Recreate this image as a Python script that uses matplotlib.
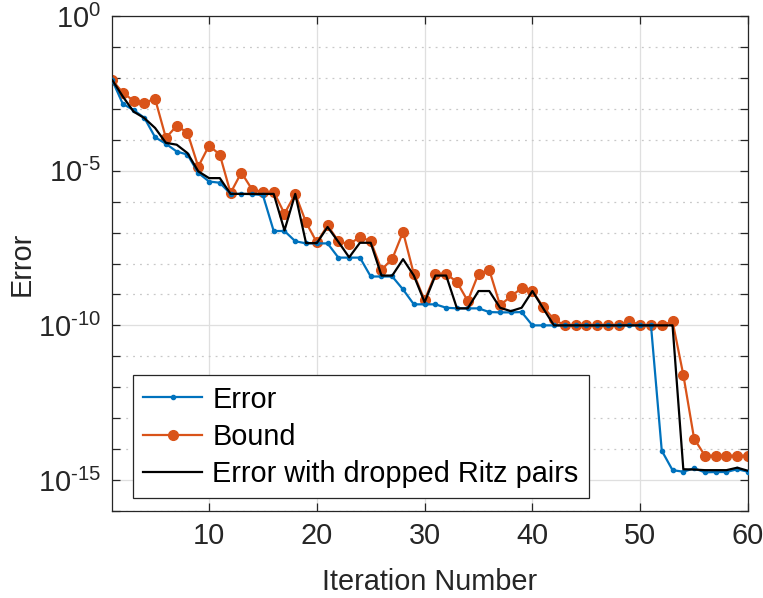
import numpy as np
import matplotlib
matplotlib.use("Agg")
import matplotlib.pyplot as plt
from matplotlib.ticker import FixedLocator, NullFormatter, FuncFormatter

plt.rcParams['font.family'] = ['Liberation Sans', 'DejaVu Sans']
plt.rcParams['mathtext.fontset'] = 'custom'
plt.rcParams['mathtext.rm'] = 'Liberation Sans'
plt.rcParams['mathtext.it'] = 'Liberation Sans:italic'
plt.rcParams['axes.unicode_minus'] = False

iterations = list(range(1, 61))

# log10 of values
error_log = [-2.06, -2.84, -3.04, -3.29, -3.92, -4.13, -4.38, -4.48, -5.07, -5.35,
             -5.39, -5.75, -5.75, -5.76, -5.79, -6.95, -6.95, -7.28, -7.35, -7.35,
             -7.35, -7.81, -7.81, -7.81, -8.42, -8.42, -8.42, -8.84, -9.32, -9.32,
             -9.32, -9.43, -9.45, -9.45, -9.45, -9.57, -9.58, -9.58, -9.57, -10.0,
             -10.0, -10.0, -10.0, -10.0, -10.0, -10.0, -10.0, -10.0, -10.0, -10.0,
             -10.0, -14.05, -14.68, -14.73, -14.62, -14.75, -14.74, -14.74, -14.65, -14.73]

bound_log = [-2.06, -2.48, -2.74, -2.80, -2.68, -3.94, -3.55, -3.77, -4.87, -4.19,
             -4.48, -5.72, -5.06, -5.61, -5.69, -5.68, -6.39, -5.75, -6.67, -7.32,
             -6.77, -7.28, -7.38, -7.14, -7.28, -8.20, -7.85, -6.98, -8.34, -9.19,
             -8.33, -8.33, -8.60, -9.21, -8.33, -8.21, -9.35, -9.06, -8.80, -8.89,
             -9.40, -9.81, -10.0, -10.0, -10.0, -10.0, -10.0, -10.0, -9.85, -10.0,
             -10.0, -10.0, -9.87, -11.60, -13.66, -14.21, -14.21, -14.21, -14.21, -14.21]

dropped_log = [-2.06, -2.60, -3.09, -3.30, -3.62, -4.10, -4.16, -4.43, -5.02, -5.24,
               -5.24, -5.75, -5.75, -5.75, -5.75, -5.75, -6.93, -5.75, -7.34, -7.34,
               -6.82, -7.30, -7.80, -7.33, -7.33, -8.39, -8.39, -7.86, -8.39, -9.25,
               -8.39, -8.39, -9.45, -9.45, -8.89, -8.89, -9.43, -9.54, -9.43, -8.89,
               -9.45, -10.0, -10.0, -10.0, -10.0, -10.0, -10.0, -10.0, -10.0, -10.0,
               -10.0, -10.0, -10.0, -14.65, -14.66, -14.68, -14.68, -14.68, -14.60, -14.70]

x_ticks = [10, 20, 30, 40, 50, 60]
y_tick_exps = [-15, -10, -5, 0]

error_vals = 10.0 ** np.array(error_log)
bound_vals = 10.0 ** np.array(bound_log)
dropped_vals = 10.0 ** np.array(dropped_log)

fig = plt.figure(figsize=(7.63, 5.98), dpi=100)
ax = fig.add_axes([112/763, 1 - 511/598, (748-112)/763, (511-16)/598])

axc = '#262626'
fs = 20.8

ax.semilogy(iterations, error_vals, '-', color='#0072BD', lw=1.6, marker='.',
            markersize=6, label='Error', zorder=3)
ax.semilogy(iterations, bound_vals, '-', color='#D95319', lw=1.6, marker='o',
            markersize=7, label='Bound', zorder=2)
ax.semilogy(iterations, dropped_vals, '-', color='black', lw=1.6,
            label='Error with dropped Ritz pairs', zorder=4)

ax.set_xlim(1, 60)
ax.set_ylim(1e-16, 1)
ax.xaxis.set_major_locator(FixedLocator(x_ticks))
ax.yaxis.set_major_locator(FixedLocator([10.0**k for k in y_tick_exps]))
ax.yaxis.set_minor_locator(FixedLocator([10.0**k for k in range(-16, 1) if k % 5 != 0]))
ax.yaxis.set_minor_formatter(NullFormatter())


def fmt(v, pos):
    e = int(round(np.log10(v)))
    if e < 0:
        return r'$\mathdefault{10^{\text{-}%d}}$' % (-e)
    return r'$\mathdefault{10^{%d}}$' % e


ax.yaxis.set_major_formatter(FuncFormatter(fmt))

ax.grid(True, which='major', color='#dfdfdf', lw=0.9, ls='-')
ax.grid(True, which='minor', axis='y', color='#c8c8c8', lw=0.9, ls=(0, (1.5, 4)))
ax.set_axisbelow(True)

for s in ax.spines.values():
    s.set_color(axc)
    s.set_linewidth(0.9)

ax.tick_params(which='both', direction='in', top=True, right=True, color=axc,
               labelcolor=axc, labelsize=fs, width=0.9)
ax.tick_params(which='major', length=6, pad=8)
ax.tick_params(which='minor', length=6)
ax.tick_params(axis='x', which='minor', bottom=False, top=False)

ax.set_xlabel('Iteration Number', fontsize=fs, color=axc, labelpad=13)
ax.set_ylabel('Error', fontsize=fs, color=axc, labelpad=2)

leg = ax.legend(loc='lower left', bbox_to_anchor=(0.033, 0.026), borderaxespad=0,
                fontsize=fs, frameon=True, fancybox=False, framealpha=1,
                edgecolor=axc, handlelength=2.05, handletextpad=0.35,
                labelspacing=0.32, borderpad=0.35)
leg.get_frame().set_linewidth(0.9)

fig.savefig('out.png', dpi=100)
